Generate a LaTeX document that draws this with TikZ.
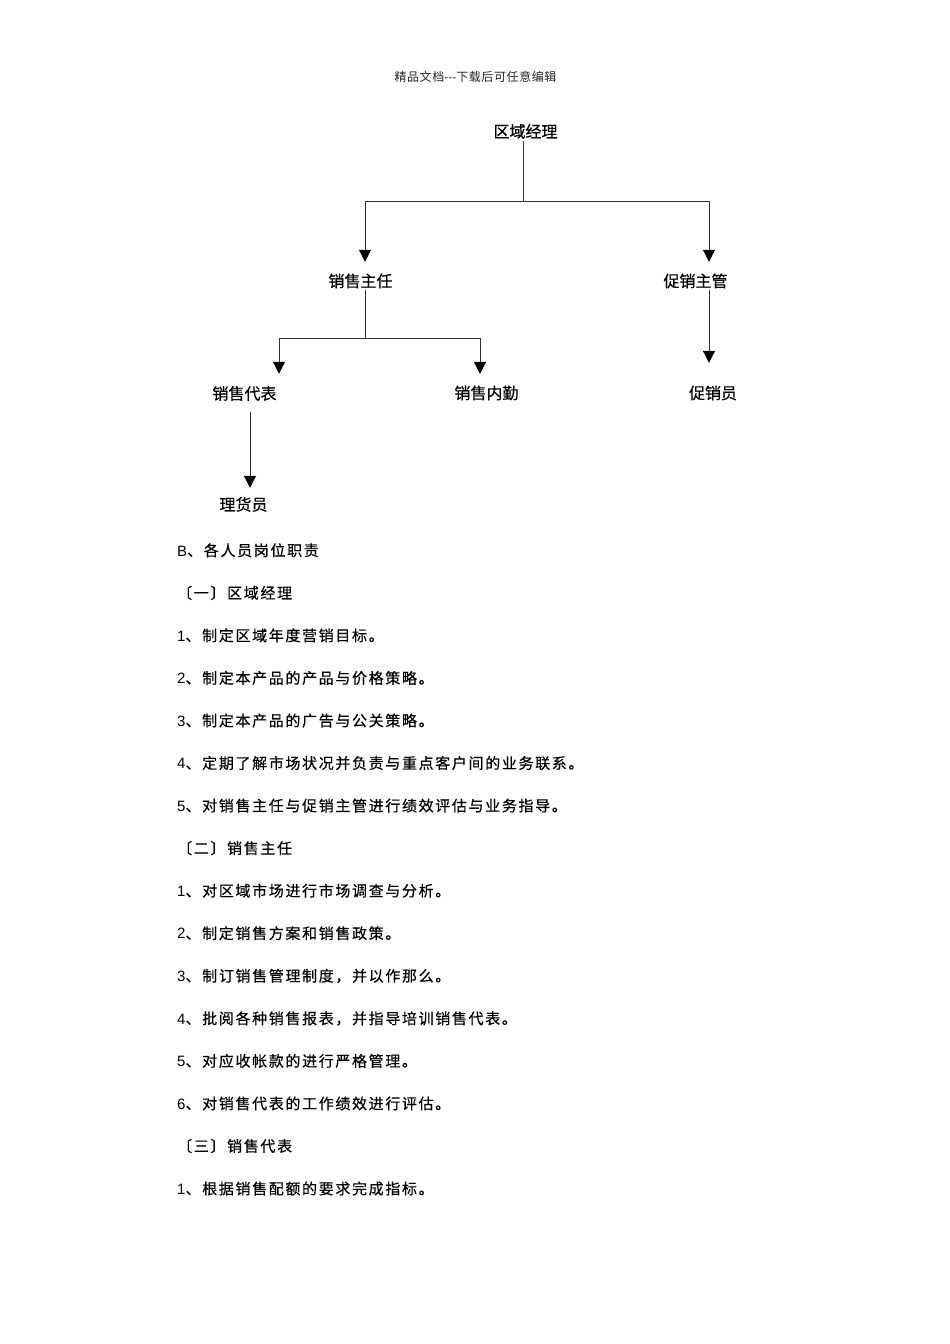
\documentclass[tikz,border=0pt]{standalone}
\usepackage{fontspec}
\setmainfont{Liberation Sans}
\newfontfamily\cjk[FakeBold=0.4]{Noto Sans CJK SC}
\newfontfamily\cjkb[LetterSpace=11,FakeBold=0.4]{Noto Sans CJK SC}
\newfontfamily\latb[LetterSpace=11]{Liberation Sans}
\newfontfamily\cjkh[LetterSpace=5]{Noto Sans CJK SC}
\usetikzlibrary{arrows.meta}
\tikzset{
  lbl/.style={font=\fontsize{16}{16}\selectfont\cjk, inner sep=0pt, text height=13pt, text depth=3pt},
  body/.style={font=\fontsize{15}{17}\selectfont\latb, anchor=west, inner sep=0pt, text height=12pt, text depth=2pt},
  hdr/.style={font=\fontsize{12}{14}\selectfont, inner sep=0pt, text height=10pt, text depth=2pt, text=black!85},
  ln/.style={draw=black!80, line width=1pt},
  arr/.style={ln, -{Triangle[length=12pt,width=12pt,color=black]}}
}
\begin{document}
\begin{tikzpicture}[x=1pt,y=-1pt]
\useasboundingbox[fill=white] (0,0) rectangle (950,1344);
% header
\node[hdr] (hd) at (475.5,77) {{\cjkh 精品文档}-{}-{}-{\cjkh 下载后可任意编辑}};
% chart nodes
\node[lbl] (qy)   at (525.5,132.5) {区域经理};
\node[lbl] (xszr) at (360.5,282)   {销售主任};
\node[lbl] (cxzg) at (695.5,282)   {促销主管};
\node[lbl] (xsdb) at (244.5,394.5) {销售代表};
\node[lbl] (xsnq) at (486.5,394)   {销售内勤};
\node[lbl] (cxy)  at (713,394)     {促销员};
\node[lbl] (lhy)  at (243.5,505.5) {理货员};
% connectors
\coordinate (j1) at (523,201);
\draw[ln] (qy.south -| j1) -- (j1);
\draw[arr] (j1) -| ([xshift=4.5pt,yshift=12pt]xszr.north);
\draw[arr] (j1) -| ([xshift=13.5pt,yshift=12pt]cxzg.north);
\coordinate (j2) at (365,338);
\draw[ln] (xszr.south -| j2) -- (j2);
\draw[arr] (j2) -| ([xshift=34.5pt,yshift=12.5pt]xsdb.north);
\draw[arr] (j2) -| ([xshift=-6.5pt,yshift=12pt]xsnq.north);
\path ([yshift=23pt]cxy.north) coordinate (t3);
\draw[arr] ([xshift=13.5pt]cxzg.south) -- ([xshift=13.5pt]cxzg.south |- t3);
\draw[arr] ([xshift=5.5pt,yshift=-9.5pt]xsdb.south) -- ([xshift=6.5pt,yshift=9.5pt]lhy.north);
% body text
\foreach \t [count=\i from 0] in {
  {B\cjkb 、各人员岗位职责},
  {\cjkb 〔一〕区域经理},
  {1\cjkb 、制定区域年度营销目标。},
  {2\cjkb 、制定本产品的产品与价格策略。},
  {3\cjkb 、制定本产品的广告与公关策略。},
  {4\cjkb 、定期了解市场状况并负责与重点客户间的业务联系。},
  {5\cjkb 、对销售主任与促销主管进行绩效评估与业务指导。},
  {\cjkb 〔二〕销售主任},
  {1\cjkb 、对区域市场进行市场调查与分析。},
  {2\cjkb 、制定销售方案和销售政策。},
  {3\cjkb 、制订销售管理制度，并以作那么。},
  {4\cjkb 、批阅各种销售报表，并指导培训销售代表。},
  {5\cjkb 、对应收帐款的进行严格管理。},
  {6\cjkb 、对销售代表的工作绩效进行评估。},
  {\cjkb 〔三〕销售代表},
  {1\cjkb 、根据销售配额的要求完成指标。}}
  \node[body] (b\i) at (177, 551+42.55*\i) {\t};
\end{tikzpicture}
\end{document}
